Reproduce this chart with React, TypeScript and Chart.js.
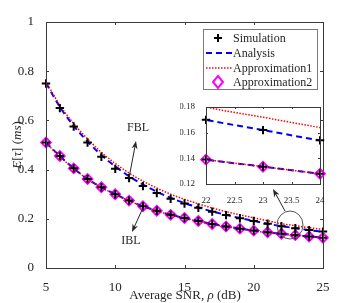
import React, { useEffect, useRef } from "react";
import { Chart, registerables } from "chart.js";
Chart.register(...registerables);

const snr = [5, 6, 7, 8, 9, 10, 11, 12, 13, 14, 15, 16, 17, 18, 19, 20, 21, 22, 23, 24, 25];
const fblSim = [0.75, 0.65, 0.575, 0.51, 0.452, 0.403, 0.366, 0.333, 0.305, 0.281, 0.262, 0.245, 0.229, 0.215, 0.202, 0.191, 0.18, 0.17, 0.162, 0.154, 0.148];
const fblAnalysis = [0.752, 0.655, 0.578, 0.514, 0.459, 0.413, 0.373, 0.339, 0.31, 0.285, 0.264, 0.246, 0.23, 0.216, 0.203, 0.191, 0.18, 0.17, 0.162, 0.154, 0.147];
const fblApprox1 = [0.757, 0.662, 0.587, 0.525, 0.47, 0.425, 0.386, 0.353, 0.325, 0.3, 0.279, 0.261, 0.244, 0.229, 0.216, 0.204, 0.192, 0.18, 0.172, 0.164, 0.157];
const iblSim = [0.51, 0.455, 0.405, 0.362, 0.328, 0.3, 0.274, 0.251, 0.233, 0.216, 0.203, 0.191, 0.179, 0.169, 0.16, 0.152, 0.145, 0.139, 0.1335, 0.128, 0.123];
const iblAnalysis = [0.51, 0.455, 0.405, 0.362, 0.328, 0.3, 0.274, 0.251, 0.233, 0.216, 0.203, 0.191, 0.179, 0.169, 0.16, 0.152, 0.145, 0.139, 0.1335, 0.128, 0.123];
const iblApprox1 = [0.508, 0.453, 0.404, 0.361, 0.327, 0.299, 0.273, 0.25, 0.232, 0.215, 0.202, 0.19, 0.178, 0.168, 0.159, 0.151, 0.144, 0.139, 0.1335, 0.128, 0.123];
const iblApprox2 = [0.51, 0.455, 0.405, 0.362, 0.328, 0.3, 0.274, 0.251, 0.233, 0.216, 0.203, 0.191, 0.179, 0.169, 0.16, 0.152, 0.145, 0.139, 0.1335, 0.128, 0.123];

const xTicksMain = [5, 10, 15, 20, 25];
const yTicksMain = [0, 0.2, 0.4, 0.6, 0.8, 1];
const xTicksInset = [22, 22.5, 23, 23.5, 24];
const yTicksInset = [0.12, 0.14, 0.16, 0.18];
const legendLabels = ["Simulation", "Analysis", "Approximation1", "Approximation2"];

const SERIF = "'Liberation Serif', 'DejaVu Serif', serif";
const AXIS = "#3a3a3a";
const BLUE = "#0000FF";
const RED = "#FF0000";
const MAGENTA = "#FF00FF";

type Pt = { x: number; y: number };
const pts = (ys: number[], lo = -Infinity, hi = Infinity): Pt[] =>
  snr.map((x, i) => ({ x, y: ys[i] })).filter((p) => p.x >= lo && p.x <= hi);

function makeDatasets(inset: boolean): any[] {
  const lo = inset ? 22 : -Infinity;
  const hi = inset ? 24 : Infinity;
  const lineClip = inset ? 0 : false;
  const sim = (ys: number[]) => ({
    data: pts(ys, lo, hi),
    showLine: false,
    pointStyle: "cross",
    pointRadius: 4.2,
    pointBorderWidth: 2,
    pointBorderColor: "#000",
    pointBackgroundColor: "#000",
    clip: false,
    order: 0,
  });
  const line = (ys: number[], color: string, dash: number[], w: number, order: number) => ({
    data: pts(ys),
    borderColor: color,
    borderWidth: w,
    borderDash: dash,
    pointRadius: 0,
    fill: false,
    cubicInterpolationMode: "monotone",
    clip: lineClip,
    order,
  });
  return [
    sim(fblSim),
    sim(iblSim),
    line(fblApprox1, RED, [1.5, 1.5], 1.5, 1),
    line(iblApprox1, RED, [1.5, 1.5], 1.5, 1),
    line(fblAnalysis, BLUE, [6, 4], 2, 2),
    line(iblAnalysis, BLUE, [6, 4], 2, 2),
    {
      data: pts(iblApprox2, lo, hi),
      showLine: false,
      pointStyle: "rectRot",
      pointRadius: 4.8,
      pointBorderWidth: 2,
      pointBorderColor: MAGENTA,
      pointBackgroundColor: "rgba(0,0,0,0)",
      clip: false,
      order: 3,
    },
  ];
}

function framePlugin(xt: number[], yt: number[], tickLen: number, whiteBg: boolean) {
  return {
    id: "frame",
    beforeDatasetsDraw(chart: any) {
      if (!whiteBg) return;
      const { ctx, chartArea: a } = chart;
      ctx.save();
      ctx.fillStyle = "#fff";
      ctx.fillRect(a.left, a.top, a.right - a.left, a.bottom - a.top);
      ctx.restore();
    },
    afterDatasetsDraw(chart: any) {
      const { ctx, chartArea: a } = chart;
      const xs = chart.scales.x;
      const ys = chart.scales.y;
      ctx.save();
      ctx.strokeStyle = AXIS;
      ctx.lineWidth = 1;
      ctx.beginPath();
      for (const v of xt) {
        const px = Math.round(xs.getPixelForValue(v)) + 0.5;
        ctx.moveTo(px, a.bottom);
        ctx.lineTo(px, a.bottom - tickLen);
        ctx.moveTo(px, a.top);
        ctx.lineTo(px, a.top + tickLen);
      }
      for (const v of yt) {
        const py = Math.round(ys.getPixelForValue(v)) + 0.5;
        ctx.moveTo(a.left, py);
        ctx.lineTo(a.left + tickLen, py);
        ctx.moveTo(a.right, py);
        ctx.lineTo(a.right - tickLen, py);
      }
      ctx.stroke();
      ctx.strokeRect(Math.round(a.left) + 0.5, Math.round(a.top) + 0.5, Math.round(a.right - a.left), Math.round(a.bottom - a.top));
      ctx.restore();
    },
  };
}

function arrow(ctx: CanvasRenderingContext2D, x1: number, y1: number, x2: number, y2: number) {
  const ang = Math.atan2(y2 - y1, x2 - x1);
  const hl = 8;
  const hw = 3;
  ctx.beginPath();
  ctx.moveTo(x1, y1);
  ctx.lineTo(x2 - Math.cos(ang) * hl * 0.7, y2 - Math.sin(ang) * hl * 0.7);
  ctx.stroke();
  ctx.beginPath();
  ctx.moveTo(x2, y2);
  ctx.lineTo(x2 - Math.cos(ang) * hl - Math.sin(ang) * hw, y2 - Math.sin(ang) * hl + Math.cos(ang) * hw);
  ctx.lineTo(x2 - Math.cos(ang) * hl * 0.7, y2 - Math.sin(ang) * hl * 0.7);
  ctx.lineTo(x2 - Math.cos(ang) * hl + Math.sin(ang) * hw, y2 - Math.sin(ang) * hl - Math.cos(ang) * hw);
  ctx.closePath();
  ctx.fill();
}

function drawSegments(ctx: CanvasRenderingContext2D, segs: [string, boolean][], size: number, cx: number, cy: number) {
  const font = (it: boolean) => `${it ? "italic " : ""}${size}px ${SERIF}`;
  let total = 0;
  for (const [t, it] of segs) {
    ctx.font = font(it);
    total += ctx.measureText(t).width;
  }
  let x = cx - total / 2;
  ctx.textAlign = "left";
  for (const [t, it] of segs) {
    ctx.font = font(it);
    ctx.fillText(t, x, cy);
    x += ctx.measureText(t).width;
  }
}

const annotPlugin = {
  id: "annot",
  afterDraw(chart: any) {
    const ctx: CanvasRenderingContext2D = chart.ctx;
    ctx.save();
    ctx.fillStyle = "#262626";
    ctx.strokeStyle = "#262626";
    ctx.lineWidth = 1;
    ctx.textBaseline = "alphabetic";
    // axis titles
    drawSegments(ctx, [["Average SNR, ", false], ["ρ", true], [" (dB)", false]], 13, 185, 299);
    ctx.save();
    ctx.translate(21, 145);
    ctx.rotate(-Math.PI / 2);
    drawSegments(ctx, [["E", true], ["[", false], ["τ", true], ["]", false], [" (", false], ["ms", true], [")", false]], 13, 0, 0);
    ctx.restore();
    // labels
    ctx.font = `12px ${SERIF}`;
    ctx.textAlign = "center";
    ctx.textBaseline = "middle";
    ctx.fillText("FBL", 138, 128);
    ctx.fillText("IBL", 131, 241);
    arrow(ctx, 129, 178, 136, 141);
    arrow(ctx, 142, 210, 132, 232);
    // zoom circle
    ctx.strokeStyle = "#555";
    ctx.beginPath();
    ctx.ellipse(290, 225, 13, 14, 0, 0, Math.PI * 2);
    ctx.stroke();
    ctx.strokeStyle = "#262626";
    arrow(ctx, 285, 211, 273, 189);

    // legend
    const lx = 203, ly = 29, lw = 114, lh = 60;
    ctx.fillStyle = "#fff";
    ctx.fillRect(lx, ly, lw, lh);
    ctx.strokeStyle = "#7a7a7a";
    ctx.strokeRect(lx + 0.5, ly + 0.5, lw, lh);
    const rows = [38, 53, 68, 82];
    ctx.font = `12px ${SERIF}`;
    ctx.textAlign = "left";
    ctx.textBaseline = "middle";
    legendLabels.forEach((lab, i) => {
      const y = rows[i];
      ctx.fillStyle = "#262626";
      ctx.fillText(lab, 233, y + 1);
      ctx.save();
      if (i === 0) {
        ctx.strokeStyle = "#000";
        ctx.lineWidth = 2;
        ctx.beginPath();
        ctx.moveTo(214, y);
        ctx.lineTo(222, y);
        ctx.moveTo(218, y - 4);
        ctx.lineTo(218, y + 4);
        ctx.stroke();
      } else if (i === 1) {
        ctx.strokeStyle = BLUE;
        ctx.lineWidth = 2;
        ctx.setLineDash([6, 4]);
        ctx.beginPath();
        ctx.moveTo(206, y);
        ctx.lineTo(233, y);
        ctx.stroke();
      } else if (i === 2) {
        ctx.strokeStyle = RED;
        ctx.lineWidth = 1.5;
        ctx.setLineDash([1.5, 1.5]);
        ctx.beginPath();
        ctx.moveTo(206, y);
        ctx.lineTo(233, y);
        ctx.stroke();
      } else {
        ctx.strokeStyle = MAGENTA;
        ctx.lineWidth = 2;
        ctx.beginPath();
        ctx.moveTo(218, y - 6);
        ctx.lineTo(223, y);
        ctx.lineTo(218, y + 6);
        ctx.lineTo(213, y);
        ctx.closePath();
        ctx.stroke();
      }
      ctx.restore();
    });
    ctx.restore();
  },
};

function scaleOpts(min: number, max: number, ticks: number[], fontSize: number, pad: number, fitSize: number, isX: boolean) {
  return {
    type: "linear",
    min,
    max,
    grid: { display: false },
    border: { display: false },
    afterBuildTicks: (s: any) => {
      s.ticks = ticks.map((v) => ({ value: v }));
    },
    afterFit: (s: any) => {
      if (isX) s.height = fitSize;
      else s.width = fitSize;
    },
    ticks: {
      font: { family: SERIF, size: fontSize },
      color: "#262626",
      padding: pad,
      maxRotation: 0,
      autoSkip: false,
      callback: (v: any) => String(Number(v)),
    },
  };
}

export default function App() {
  const mainRef = useRef<HTMLCanvasElement>(null);
  const insetRef = useRef<HTMLCanvasElement>(null);

  useEffect(() => {
    const main = new Chart(mainRef.current!, {
      type: "line",
      data: { datasets: makeDatasets(false) },
      options: {
        animation: false,
        responsive: false,
        devicePixelRatio: 1,
        layout: { padding: { left: 0, top: 22, right: 34, bottom: 0 } },
        plugins: { legend: { display: false }, tooltip: { enabled: false } },
        scales: {
          x: scaleOpts(5, 25, xTicksMain, 13, 4, 35, true),
          y: scaleOpts(0, 1, yTicksMain, 13, 4, 46, false),
        },
      } as any,
      plugins: [framePlugin(xTicksMain, yTicksMain, 3, false), annotPlugin],
    });
    const inset = new Chart(insetRef.current!, {
      type: "line",
      data: { datasets: makeDatasets(true) },
      options: {
        animation: false,
        responsive: false,
        devicePixelRatio: 1,
        layout: { padding: { left: 0, top: 12, right: 10, bottom: 0 } },
        plugins: { legend: { display: false }, tooltip: { enabled: false } },
        scales: {
          x: scaleOpts(22, 24, xTicksInset, 9, 3, 26, true),
          y: scaleOpts(0.12, 0.18, yTicksInset, 9, 3, 26, false),
        },
      } as any,
      plugins: [framePlugin(xTicksInset, yTicksInset, 2, true)],
    });
    return () => {
      main.destroy();
      inset.destroy();
    };
  }, []);

  return (
    <div style={{ position: "fixed", left: 0, top: 0, width: 357, height: 303, background: "#fff" }}>
      <canvas ref={mainRef} width={357} height={303} style={{ position: "absolute", left: 0, top: 0, width: 357, height: 303 }} />
      <canvas ref={insetRef} width={150} height={115} style={{ position: "absolute", left: 180, top: 95, width: 150, height: 115 }} />
    </div>
  );
}
